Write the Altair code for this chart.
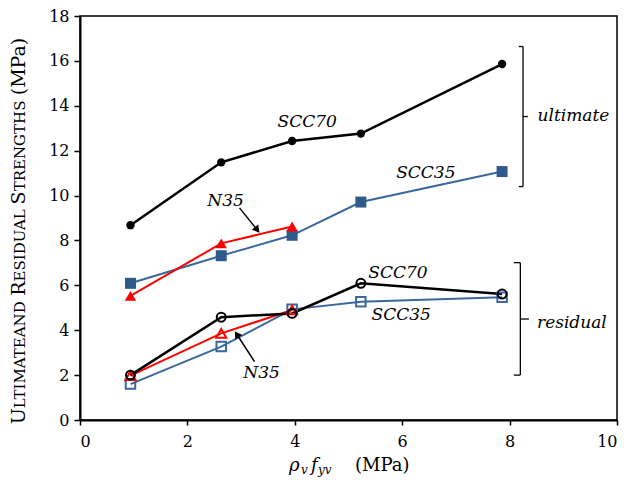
import altair as alt
import pandas as pd
import numpy as np

# ---- data ----
x_vals = [0.94, 2.63, 3.95, 5.23, 7.86]
scc70_ult = [8.68, 11.48, 12.43, 12.76, 15.86]
scc35_ult = [6.09, 7.32, 8.23, 9.71, 11.07]
n35_ult = [5.53, 7.87, 8.62]
scc70_res = [2.00, 4.58, 4.75, 6.09, 5.61]
scc35_res = [1.60, 3.27, 4.93, 5.27, 5.47]
n35_res = [1.98, 3.86, 4.90]

x_ticks = [0, 2, 4, 6, 8, 10]
y_ticks = [0, 2, 4, 6, 8, 10, 12, 14, 16, 18]

# annotation labels
lab_text = ["SCC70", "SCC35", "N35", "ultimate", "SCC70", "SCC35", "N35", "residual"]
lab_x = [4.23, 6.44, 2.71, 9.19, 5.92, 5.98, 3.38, 9.16]
lab_y = [13.29, 11.02, 9.76, 13.54, 6.54, 4.68, 2.08, 4.34]

# arrows (tail -> tip)
arr_x = [2.97, 3.25]
arr_y = [9.45, 2.60]
arr_x2 = [3.30, 2.92]
arr_y2 = [8.47, 3.82]

# brackets (segments)
br_x = [8.25, 8.17, 8.17, 8.25, 8.20, 8.08, 8.08, 8.20]
br_x2 = [8.25, 8.25, 8.25, 8.34, 8.20, 8.20, 8.20, 8.36]
br_y = [10.40, 16.64, 10.40, 13.52, 2.00, 7.01, 2.00, 4.50]
br_y2 = [16.64, 16.64, 10.40, 13.52, 7.01, 7.01, 2.00, 4.50]

W, H = 537, 404
FONT = "DejaVu Serif"
BLUE = "#3A689C"
BLUE_FILL = "#2F5A8C"
RED = "#FF0000"

xs = alt.Scale(domain=[0, 10], nice=False)
ys = alt.Scale(domain=[0, 18], nice=False)


def series(xv, yv, color, fill, shape, size, lw, filled):
    df = pd.DataFrame({"x": xv, "y": yv})
    enc = dict(x=alt.X("x:Q", scale=xs), y=alt.Y("y:Q", scale=ys))
    line = alt.Chart(df).mark_line(color=color, strokeWidth=lw).encode(**enc)
    if filled:
        pt = alt.Chart(df).mark_point(shape=shape, size=size, filled=True,
                                      fill=fill, color=fill, opacity=1).encode(**enc)
    else:
        pt = alt.Chart(df).mark_point(shape=shape, size=size, filled=False,
                                      stroke=color, strokeWidth=2, fill="white",
                                      fillOpacity=0, opacity=1).encode(**enc)
    return line, pt


base = alt.Chart(pd.DataFrame({"x": [0], "y": [0]})).mark_point(opacity=0).encode(
    x=alt.X("x:Q", scale=xs,
            axis=alt.Axis(values=x_ticks, format="d", title=None, grid=False,
                          tickSize=5, labelPadding=8, domainWidth=2, tickWidth=1.5)),
    y=alt.Y("y:Q", scale=ys,
            axis=alt.Axis(values=y_ticks, format="d", title=None, grid=False,
                          tickSize=6, labelPadding=5, domainWidth=2, tickWidth=1.5)),
)

layers = [base]
lines, points = [], []
for args in [
    (x_vals, scc35_ult, BLUE, BLUE_FILL, "square", 121, 2, True),
    (x_vals, scc35_res, BLUE, BLUE, "square", 90, 2, False),
    (x_vals[:3], n35_ult, RED, RED, "triangle-up", 130, 2, True),
    (x_vals[:3], n35_res, RED, RED, "triangle-up", 100, 2, False),
    (x_vals, scc70_ult, "black", "black", "circle", 70, 2.5, True),
    (x_vals, scc70_res, "black", "black", "circle", 80, 2.5, False),
]:
    l, p = series(*args)
    lines.append(l)
    points.append(p)
layers += lines + points

# brackets
br_df = pd.DataFrame({"x": br_x, "x2": br_x2, "y": br_y, "y2": br_y2})
layers.append(alt.Chart(br_df).mark_rule(color="black", strokeWidth=1.3).encode(
    x=alt.X("x:Q", scale=xs), x2="x2:Q", y=alt.Y("y:Q", scale=ys), y2="y2:Q"))

# arrows
px_per_x = W / 10.0
px_per_y = H / 18.0
arr_df = pd.DataFrame({"x": arr_x, "y": arr_y, "x2": arr_x2, "y2": arr_y2})
sx = (np.array(arr_x2) - np.array(arr_x)) * px_per_x
sy = -(np.array(arr_y2) - np.array(arr_y)) * px_per_y
arr_df["ang"] = np.mod(np.degrees(np.arctan2(sx, -sy)), 360)
layers.append(alt.Chart(arr_df).mark_rule(color="black", strokeWidth=1.5).encode(
    x=alt.X("x:Q", scale=xs), x2="x2:Q", y=alt.Y("y:Q", scale=ys), y2="y2:Q"))
layers.append(alt.Chart(arr_df).mark_point(shape="triangle-up", filled=True, color="black",
                                            size=70, opacity=1).encode(
    x=alt.X("x2:Q", scale=xs), y=alt.Y("y2:Q", scale=ys),
    angle=alt.Angle("ang:Q", scale=None)))

# labels
lab_df = pd.DataFrame({"t": lab_text, "x": lab_x, "y": lab_y})
layers.append(alt.Chart(lab_df).mark_text(font=FONT, fontSize=17, fontStyle="italic",
                                           align="center", baseline="middle",
                                           color="black").encode(
    x=alt.X("x:Q", scale=xs), y=alt.Y("y:Q", scale=ys), text="t:N"))

# y-axis title in small caps (text pieces)
yt_text = ["U", "LTIMATEAND", "R", "ESIDUAL", "S", "TRENGTHS", "(MPa)"]
yt_pos = [400.3, 338.8, 272.6, 229.4, 181.9, 129.9, 50.5]
yt_size = [19, 15, 19, 15, 19, 15, 19]
for t, p, s in zip(yt_text, yt_pos, yt_size):
    layers.append(alt.Chart(pd.DataFrame({"t": [t]})).mark_text(
        font=FONT, fontSize=s, angle=270, align="center", baseline="alphabetic",
        color="black").encode(x=alt.value(-55), y=alt.value(p), text="t:N"))

# x-axis title pieces
xt_text = ["ρ", "v", "f", "yv", "(MPa)"]
xt_x = [209, 221, 231, 238, 275]
xt_y = [455, 458, 455, 458, 455]
xt_size = [18, 12, 18, 12, 18]
xt_style = ["italic", "italic", "italic", "italic", "normal"]
for t, a, b, s, st in zip(xt_text, xt_x, xt_y, xt_size, xt_style):
    layers.append(alt.Chart(pd.DataFrame({"t": [t]})).mark_text(
        font=FONT, fontSize=s, fontStyle=st, align="left", baseline="alphabetic",
        color="black").encode(x=alt.value(a), y=alt.value(b), text="t:N"))

chart = alt.layer(*layers).properties(
    width=W, height=H,
    autosize=alt.AutoSizeParams(type="none"),
    padding={"left": 72, "top": 8, "right": 2, "bottom": 57},
).configure_view(stroke="black", strokeWidth=1.5).configure_axis(
    labelFont=FONT, labelFontSize=16, labelColor="black", domainColor="black",
    tickColor="black")

chart.save("out.html", embed_options={"renderer": "svg", "actions": False})
